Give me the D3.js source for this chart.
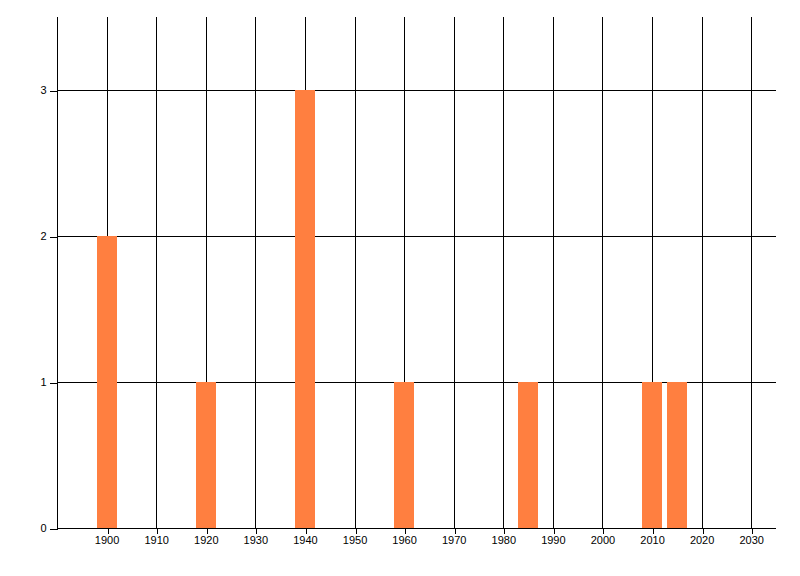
<!DOCTYPE html>
<html>
<head>
<meta charset="utf-8">
<script src="https://cdn.jsdelivr.net/npm/d3@7"></script>
<style>
  body { margin: 0; background: #fff; }
  text { font-family: "Liberation Sans", Arial, sans-serif; font-size: 11px; fill: #000; }
</style>
</head>
<body>
<div id="chart"></div>
<script>
// data
var years = [1900, 1920, 1940, 1960, 1985, 2010, 2015];
var counts = [2, 1, 3, 1, 1, 1, 1];
var xTicks = [1900, 1910, 1920, 1930, 1940, 1950, 1960, 1970, 1980, 1990, 2000, 2010, 2020, 2030];
var yTicks = [0, 1, 2, 3];

var width = 800, height = 576;
var plotL = 57, plotR = 776, plotT = 17, plotB = 528;
var barYears = 4; // bar width in years

var svg = d3.select("#chart").append("svg")
    .attr("width", width)
    .attr("height", height);

var x = d3.scaleLinear().domain([1890, 2035]).range([plotL, plotR]);
var y = d3.scaleLinear().domain([0, 3.5]).range([plotB, plotT]);

function px(v) { return Math.round(v) + 0.5; }

// grid
var grid = svg.append("g").attr("class", "grid")
    .attr("stroke", "#000").attr("stroke-width", 1).attr("shape-rendering", "crispEdges");
grid.selectAll("line.v").data(xTicks).enter().append("line")
    .attr("class", "v")
    .attr("x1", function (d) { return px(x(d)); })
    .attr("x2", function (d) { return px(x(d)); })
    .attr("y1", plotT).attr("y2", plotB);
grid.selectAll("line.h").data(yTicks.filter(function (d) { return d > 0; })).enter().append("line")
    .attr("class", "h")
    .attr("y1", function (d) { return px(y(d)); })
    .attr("y2", function (d) { return px(y(d)); })
    .attr("x1", plotL).attr("x2", plotR);

// bars
svg.append("g").selectAll("rect")
    .data(years)
    .enter().append("rect")
    .attr("x", function (d) { return Math.round(x(d - barYears / 2)); })
    .attr("width", function (d) { return Math.round(x(d + barYears / 2) - x(d - barYears / 2)); })
    .attr("y", function (d, i) { return Math.round(y(counts[i])); })
    .attr("height", function (d, i) { return Math.round(y(0)) - Math.round(y(counts[i])); })
    .attr("fill", "#ff7f40");

// axes
var xAxis = d3.axisBottom(x).tickValues(xTicks).tickFormat(d3.format("d")).tickSizeOuter(0).tickSize(5).tickPadding(3);
var yAxis = d3.axisLeft(y).tickValues(yTicks).tickFormat(d3.format("d")).tickSizeOuter(0).tickSize(8).tickPadding(3);

var gx = svg.append("g").attr("transform", "translate(0," + (plotB + 0.5) + ")").call(xAxis);
var gy = svg.append("g").attr("transform", "translate(" + (plotL + 0.5) + ",0)").call(yAxis);

[gx, gy].forEach(function (g) {
    g.select(".domain").attr("stroke", "#000").attr("shape-rendering", "crispEdges");
    g.selectAll(".tick line").attr("stroke", "#000").attr("shape-rendering", "crispEdges");
    g.selectAll(".tick text").attr("font-family", null).attr("font-size", null).attr("fill", "#000");
});
gx.select(".domain").attr("d", "M" + (plotL - 0.5) + ",0H" + plotR);
gy.select(".domain").attr("d", "M0," + plotT + "V" + plotB);
gy.selectAll(".tick line").attr("transform", function (d) { return "translate(0," + (px(y(d)) - y(d)) + ")"; });
gx.selectAll(".tick line").attr("transform", function (d) { return "translate(" + (px(x(d)) - x(d)) + ",0)"; });
</script>
</body>
</html>
